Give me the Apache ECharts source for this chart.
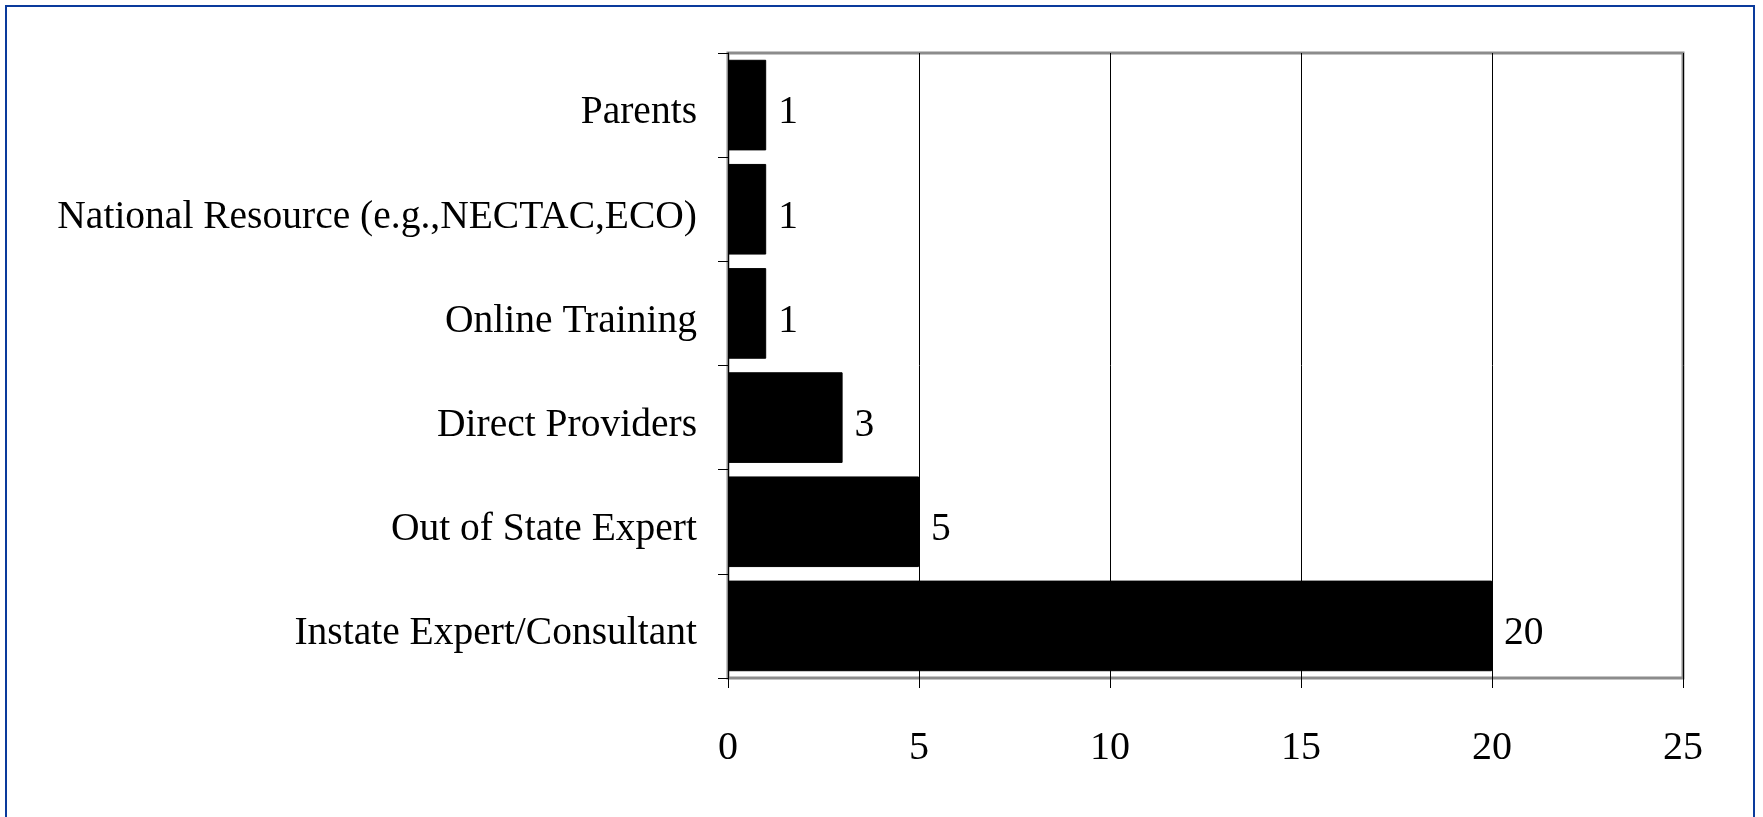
<!DOCTYPE html>
<html>
<head>
<meta charset="utf-8">
<script src="https://cdn.jsdelivr.net/npm/echarts@6/dist/echarts.min.js"></script>
<style>
  html, body { margin: 0; padding: 0; background: #fff; }
  #chart { width: 1763px; height: 817px; }
</style>
</head>
<body>
<div id="chart"></div>
<script>
// categories, bottom to top as drawn on the y axis
var categories = [
  'Instate Expert/Consultant',
  'Out of State Expert',
  'Direct Providers',
  'Online Training',
  'National Resource (e.g.,NECTAC,ECO)',
  'Parents'
];
var counts = [20, 5, 3, 1, 1, 1];
var xTicks = [0, 5, 10, 15, 20, 25];

var fontFam = '"Liberation Serif", "DejaVu Serif", serif';

var myChart = echarts.init(document.getElementById('chart'));
var option = {
  backgroundColor: '#fff',
  animation: false,
  textStyle: { fontFamily: fontFam, color: '#000' },
  graphic: [{
    type: 'rect',
    shape: { x: 6, y: 6, width: 1748, height: 830 },
    style: { fill: null, stroke: '#0a3a9c', lineWidth: 2 },
    silent: true
  }],
  grid: {
    left: 728,
    top: 53,
    width: 955,
    height: 625,
    show: true,
    borderColor: '#8c8c8c',
    borderWidth: 3,
    backgroundColor: '#fff'
  },
  xAxis: {
    type: 'value',
    min: xTicks[0],
    max: xTicks[xTicks.length - 1],
    interval: 5,
    axisLine: { show: false },
    axisTick: { show: true, length: 10, lineStyle: { color: '#000', width: 1 } },
    splitLine: { show: true, lineStyle: { color: '#000', width: 1 } },
    axisLabel: {
      margin: 50,
      fontSize: 40,
      fontFamily: fontFam,
      color: '#000'
    }
  },
  yAxis: {
    type: 'category',
    data: categories,
    axisLine: { show: true, onZero: false, lineStyle: { color: '#000', width: 1 } },
    axisTick: { show: true, length: 10, lineStyle: { color: '#000', width: 1 } },
    axisLabel: {
      margin: 31,
      fontSize: 39.5,
      verticalAlign: 'top',
      lineHeight: 16,
      fontFamily: fontFam,
      color: '#000'
    }
  },
  series: [{
    type: 'bar',
    data: counts,
    barCategoryGap: '13%',
    itemStyle: { color: '#000', borderColor: '#000', borderWidth: 1 },
    label: {
      show: true,
      position: 'right',
      distance: 12,
      offset: [0, 8],
      fontSize: 39.5,
      fontFamily: fontFam,
      color: '#000'
    }
  }]
};
myChart.setOption(option);
</script>
</body>
</html>
